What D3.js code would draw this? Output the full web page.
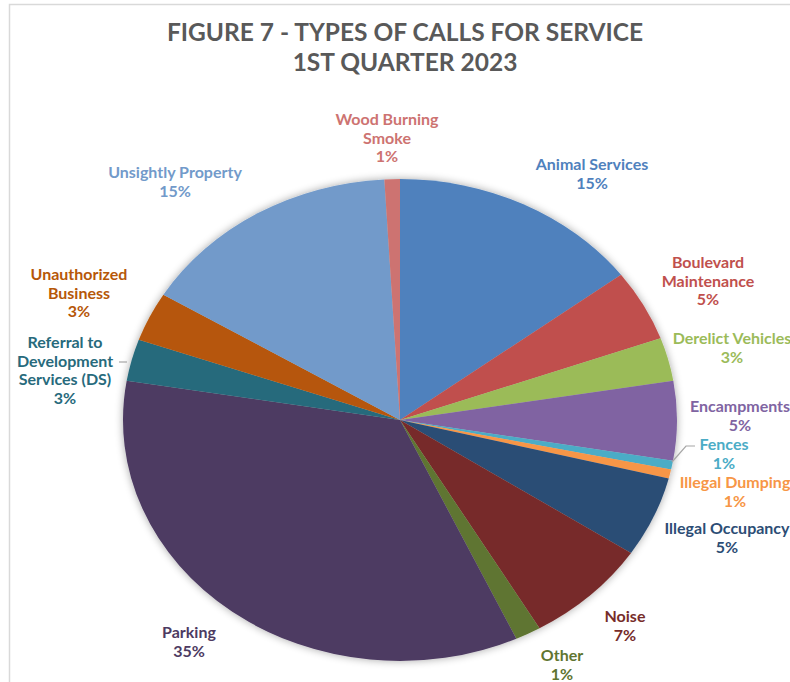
<!DOCTYPE html>
<html>
<head>
<meta charset="utf-8">
<script src="https://cdn.jsdelivr.net/npm/d3@7"></script>
<style>
html,body{margin:0;padding:0;background:#fff;overflow:hidden;}
svg{display:block;font-family:Lato,"Open Sans",sans-serif;}
</style>
</head>
<body>
<svg id="chart" width="790" height="682"></svg>
<script>
const categories = ["Animal Services","Boulevard Maintenance","Derelict Vehicles","Encampments","Fences","Illegal Dumping","Illegal Occupancy","Noise","Other","Parking","Referral to Development Services (DS)","Unauthorized Business","Unsightly Property","Wood Burning Smoke"];
const values = [14.7,4.8,2.9,5.3,0.6,0.6,5.4,7.3,1.5,34.5,2.8,3.3,15.4,0.9];
const pctLabels = ["15%","5%","3%","5%","1%","1%","5%","7%","1%","35%","3%","3%","15%","1%"];
const labelLines = [["Animal Services"],["Boulevard","Maintenance"],["Derelict Vehicles"],["Encampments"],["Fences"],["Illegal Dumping"],["Illegal Occupancy"],["Noise"],["Other"],["Parking"],["Referral to","Development","Services (DS)"],["Unauthorized","Business"],["Unsightly Property"],["Wood Burning","Smoke"]];
const colors = ["#4F81BD","#C0504D","#9BBB59","#8064A2","#4BACC6","#F79646","#2C4D75","#772C2A","#5F7530","#4D3B62","#276A7C","#B65708","#729ACA","#CD7371"];
const titleLines = ["FIGURE 7 - TYPES OF CALLS FOR SERVICE","1ST QUARTER 2023"];

// layout
const cx = 400, cy = 420, rx = 277, ry = 241;
const labelPos = [[592,165],[708,263],[732,339],[740,407],[724,445],[735,483],[727,529],[625,617],[562,656],[189,633],[65,343],[79,275],[175,173],[387,120]];
const lineH = 18.6;

const svg = d3.select("#chart");
const defs = svg.append("defs");
const f = defs.append("filter").attr("id","sh").attr("x","-20%").attr("y","-20%").attr("width","140%").attr("height","140%");
f.append("feGaussianBlur").attr("in","SourceAlpha").attr("stdDeviation",4).attr("result","b");
f.append("feOffset").attr("in","b").attr("dx",0).attr("dy",0).attr("result","o");
f.append("feComponentTransfer").attr("in","o").attr("result","t").append("feFuncA").attr("type","linear").attr("slope",0.35);
const m = f.append("feMerge"); m.append("feMergeNode").attr("in","t"); m.append("feMergeNode").attr("in","SourceGraphic");

// border
svg.append("path").attr("d","M9.5,682 V4.5 H790").attr("fill","none").attr("stroke","#d9d9d9").attr("stroke-width",1.5);

// title
svg.append("text").attr("x",405).attr("text-anchor","middle").attr("fill","#595959")
  .attr("font-size",24.5).attr("font-weight","bold")
  .selectAll("tspan").data(titleLines).join("tspan")
  .attr("x",405).attr("y",(d,i)=>41+i*30).text(d=>d);

const data = categories.map((c,i)=>({c, v:values[i], col:colors[i], i}));
const pie = d3.pie().value(d=>d.v).sort(null);
const arcs = pie(data);
const arc = d3.arc().innerRadius(0).outerRadius(ry);

const g = svg.append("g").attr("filter","url(#sh)")
  .append("g").attr("transform",`translate(${cx},${cy}) scale(${rx/ry},1)`);
g.selectAll("path").data(arcs).join("path").attr("d",arc).attr("fill",d=>d.data.col);

// leader lines
const leaders = [[[672,462],[686,446],[695,446]],[[127,362],[119,362]]];
svg.selectAll("polyline.lead").data(leaders).join("polyline").attr("class","lead")
  .attr("points",d=>d.map(p=>p.join(",")).join(" "))
  .attr("fill","none").attr("stroke","#a6a6a6").attr("stroke-width",1.2);

// labels
const lab = svg.selectAll("text.lab").data(data).join("text").attr("class","lab")
  .attr("text-anchor","middle").attr("font-size",16).attr("font-weight","bold")
  .attr("fill",d=>d.col);
lab.each(function(d){
  const t = d3.select(this);
  const [x,y] = labelPos[d.i];
  const lines = labelLines[d.i].concat([pctLabels[d.i]]);
  lines.forEach((s,k)=>{
    t.append("tspan").attr("x",x).attr("y",y+5+k*lineH).text(s);
  });
});
</script>
</body>
</html>
